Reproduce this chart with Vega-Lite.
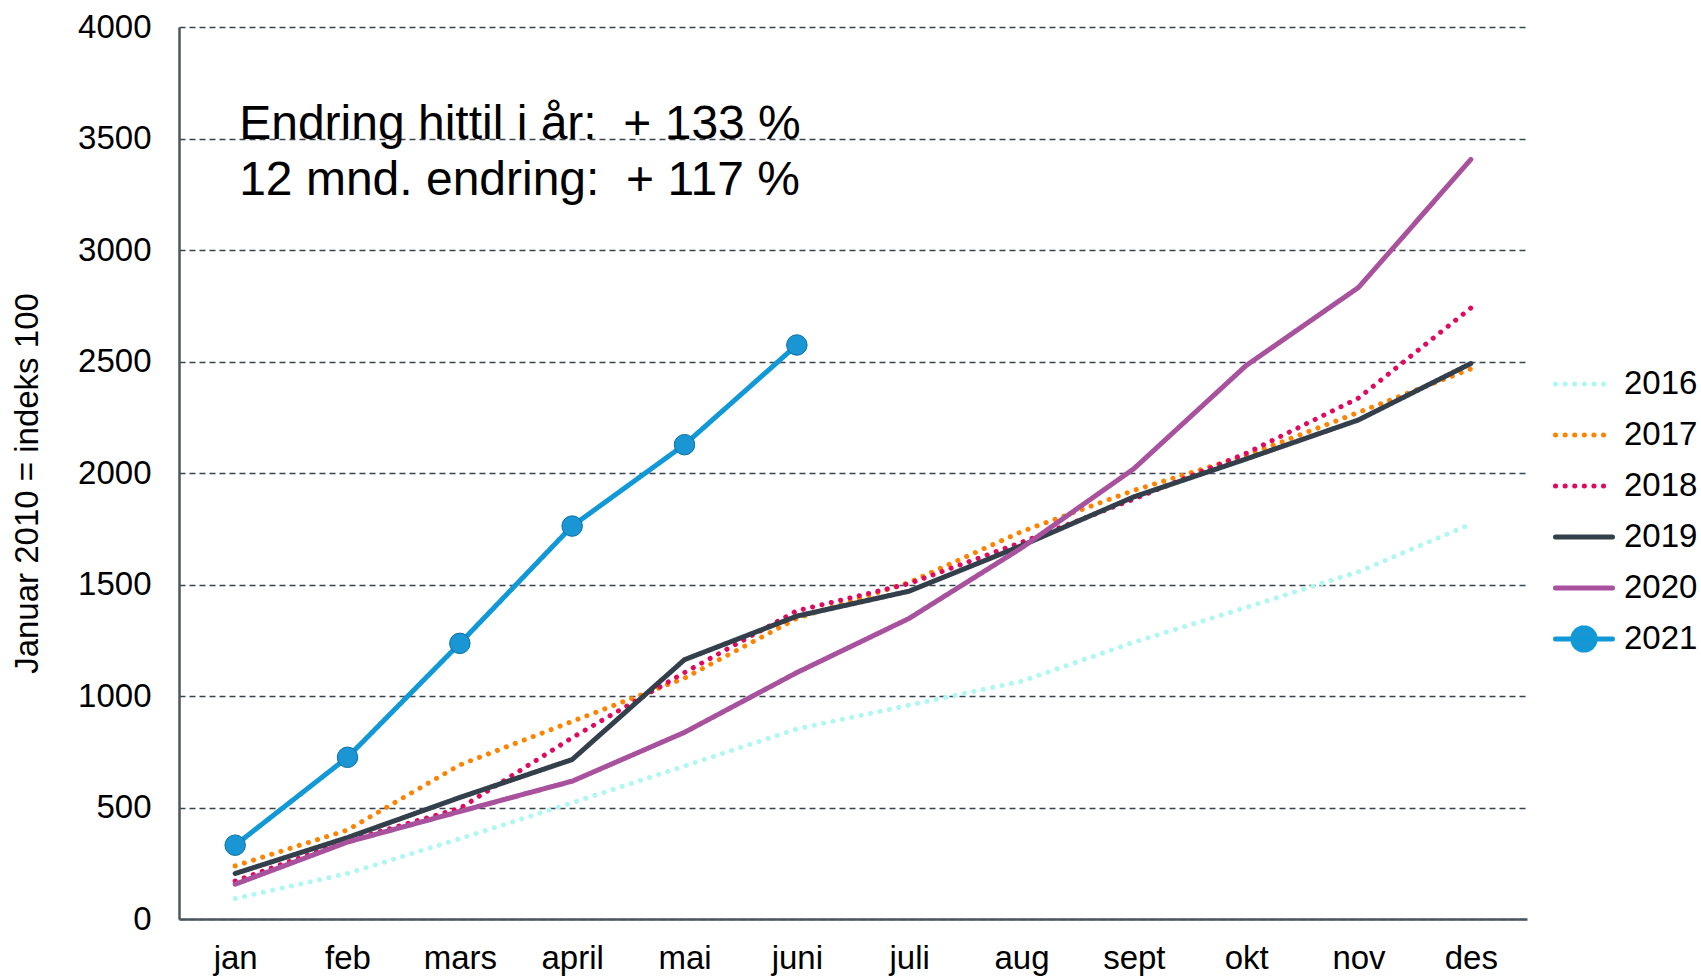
{
  "$schema": "https://vega.github.io/schema/vega-lite/v6.json",
  "autosize": "none",
  "width": 1348,
  "height": 892,
  "padding": {"left": 179, "top": 27, "right": 174, "bottom": 58},
  "background": "white",
  "config": {
    "font": "Liberation Sans",
    "view": {"stroke": null},
    "axis": {"labelFont": "Liberation Sans", "labelColor": "#000000"}
  },
  "datasets": {
    "series": [
      {"month": "jan", "year": "2016", "value": 92},
      {"month": "feb", "year": "2016", "value": 204},
      {"month": "mars", "year": "2016", "value": 360},
      {"month": "april", "year": "2016", "value": 521},
      {"month": "mai", "year": "2016", "value": 686},
      {"month": "juni", "year": "2016", "value": 852},
      {"month": "juli", "year": "2016", "value": 959},
      {"month": "aug", "year": "2016", "value": 1066},
      {"month": "sept", "year": "2016", "value": 1241},
      {"month": "okt", "year": "2016", "value": 1397},
      {"month": "nov", "year": "2016", "value": 1557},
      {"month": "des", "year": "2016", "value": 1771},
      {"month": "jan", "year": "2017", "value": 238},
      {"month": "feb", "year": "2017", "value": 399},
      {"month": "mars", "year": "2017", "value": 691},
      {"month": "april", "year": "2017", "value": 886},
      {"month": "mai", "year": "2017", "value": 1080},
      {"month": "juni", "year": "2017", "value": 1348},
      {"month": "juli", "year": "2017", "value": 1509},
      {"month": "aug", "year": "2017", "value": 1737},
      {"month": "sept", "year": "2017", "value": 1922},
      {"month": "okt", "year": "2017", "value": 2078},
      {"month": "nov", "year": "2017", "value": 2272},
      {"month": "des", "year": "2017", "value": 2467},
      {"month": "jan", "year": "2018", "value": 170},
      {"month": "feb", "year": "2018", "value": 350},
      {"month": "mars", "year": "2018", "value": 496},
      {"month": "april", "year": "2018", "value": 813},
      {"month": "mai", "year": "2018", "value": 1105},
      {"month": "juni", "year": "2018", "value": 1382},
      {"month": "juli", "year": "2018", "value": 1504},
      {"month": "aug", "year": "2018", "value": 1689},
      {"month": "sept", "year": "2018", "value": 1883},
      {"month": "okt", "year": "2018", "value": 2088},
      {"month": "nov", "year": "2018", "value": 2336},
      {"month": "des", "year": "2018", "value": 2740},
      {"month": "jan", "year": "2019", "value": 204},
      {"month": "feb", "year": "2019", "value": 365},
      {"month": "mars", "year": "2019", "value": 545},
      {"month": "april", "year": "2019", "value": 715},
      {"month": "mai", "year": "2019", "value": 1163},
      {"month": "juni", "year": "2019", "value": 1358},
      {"month": "juli", "year": "2019", "value": 1470},
      {"month": "aug", "year": "2019", "value": 1674},
      {"month": "sept", "year": "2019", "value": 1893},
      {"month": "okt", "year": "2019", "value": 2063},
      {"month": "nov", "year": "2019", "value": 2238},
      {"month": "des", "year": "2019", "value": 2491},
      {"month": "jan", "year": "2020", "value": 156},
      {"month": "feb", "year": "2020", "value": 345},
      {"month": "mars", "year": "2020", "value": 482},
      {"month": "april", "year": "2020", "value": 618},
      {"month": "mai", "year": "2020", "value": 837},
      {"month": "juni", "year": "2020", "value": 1105},
      {"month": "juli", "year": "2020", "value": 1348},
      {"month": "aug", "year": "2020", "value": 1664},
      {"month": "sept", "year": "2020", "value": 2019},
      {"month": "okt", "year": "2020", "value": 2482},
      {"month": "nov", "year": "2020", "value": 2832},
      {"month": "des", "year": "2020", "value": 3406},
      {"month": "jan", "year": "2021", "value": 331},
      {"month": "feb", "year": "2021", "value": 725},
      {"month": "mars", "year": "2021", "value": 1236},
      {"month": "april", "year": "2021", "value": 1762},
      {"month": "mai", "year": "2021", "value": 2127},
      {"month": "juni", "year": "2021", "value": 2574}
    ],
    "notes": [
      {"month": "jan", "value": 3500, "label": "Endring hittil i år:\u00a0\u00a0+ 133 %"},
      {"month": "jan", "value": 3245, "label": "12 mnd. endring:\u00a0\u00a0+ 117 %"}
    ]
  },
  "layer": [
    {
      "data": {"name": "series"},
      "mark": {"type": "line", "strokeCap": "round", "strokeJoin": "round"},
      "encoding": {
        "x": {
          "field": "month", "type": "ordinal",
          "sort": ["jan", "feb", "mars", "april", "mai", "juni", "juli", "aug", "sept", "okt", "nov", "des"],
          "scale": {"type": "point", "padding": 0.5},
          "axis": {
            "title": null, "labelAngle": 0, "ticks": false, "labelFontSize": 33, "labelPadding": 23,
            "domainColor": "#4b5660", "domainWidth": 2.5, "grid": false
          }
        },
        "y": {
          "field": "value", "type": "quantitative",
          "scale": {"domain": [0, 4000], "nice": false},
          "axis": {
            "title": "Januar 2010 = indeks 100",
            "titleFont": "Liberation Sans",
            "titleFontSize": 33, "titleFontWeight": "normal", "titleColor": "#000000",
            "titleX": -152, "titleY": 456, "titleAngle": -90, "titleBaseline": "middle", "titleAlign": "center",
            "values": [0, 500, 1000, 1500, 2000, 2500, 3000, 3500, 4000],
            "format": "d",
            "ticks": false, "labelFontSize": 33, "labelPadding": 28,
            "domainColor": "#4b5660", "domainWidth": 2.5,
            "grid": true, "gridColor": "#3a444c", "gridWidth": 1.5, "gridDash": [6, 4]
          }
        },
        "color": {
          "field": "year", "type": "nominal",
          "scale": {
            "domain": ["2016", "2017", "2018", "2019", "2020", "2021"],
            "range": ["#aef7f2", "#ff8200", "#e0095f", "#333f4a", "#a8519d", "#1198d7"]
          },
          "legend": {
            "title": null, "orient": "none", "legendX": 1374, "legendY": 326,
            "symbolType": "stroke", "symbolSize": 3249, "symbolStrokeWidth": 5,
            "labelFontSize": 33, "labelFont": "Liberation Sans", "labelColor": "#000000",
            "labelOffset": 9, "rowPadding": 3,
            "encode": {
              "symbols": {
                "update": {
                  "strokeCap": {"value": "round"},
                  "shape": {"signal": "datum.value === '2021' ? 'M-1,0L1,0M-0.39,0A0.39,0.39,0,1,1,0.39,0A0.39,0.39,0,1,1,-0.39,0' : 'stroke'"},
                  "fill": {"signal": "datum.value === '2021' ? '#1a96d4' : 'transparent'"}
                }
              }
            }
          }
        },
        "strokeDash": {
          "field": "year", "type": "nominal",
          "scale": {
            "domain": ["2016", "2017", "2018", "2019", "2020", "2021"],
            "range": [[0.1, 9.5], [0.1, 9.5], [0.1, 9.5], [1, 0], [1, 0], [1, 0]]
          },
          "legend": null
        },
        "strokeWidth": {
          "field": "year", "type": "nominal",
          "scale": {
            "domain": ["2016", "2017", "2018", "2019", "2020", "2021"],
            "range": [5, 5, 5, 5.5, 5.5, 5]
          },
          "legend": null
        }
      }
    },
    {
      "data": {"name": "series"},
      "transform": [{"filter": "datum.year === '2021'"}],
      "mark": {"type": "point", "filled": true, "size": 420, "color": "#1a96d4", "stroke": "#0b6fa3", "strokeWidth": 1, "opacity": 1},
      "encoding": {
        "x": {"field": "month", "type": "ordinal", "sort": ["jan", "feb", "mars", "april", "mai", "juni", "juli", "aug", "sept", "okt", "nov", "des"]},
        "y": {"field": "value", "type": "quantitative"}
      }
    },
    {
      "data": {"name": "notes"},
      "mark": {"type": "text", "align": "left", "baseline": "alphabetic", "dx": 4, "fontSize": 48, "font": "Liberation Sans", "color": "#000000"},
      "encoding": {
        "x": {"field": "month", "type": "ordinal", "sort": ["jan", "feb", "mars", "april", "mai", "juni", "juli", "aug", "sept", "okt", "nov", "des"]},
        "y": {"field": "value", "type": "quantitative"},
        "text": {"field": "label"}
      }
    }
  ]
}
